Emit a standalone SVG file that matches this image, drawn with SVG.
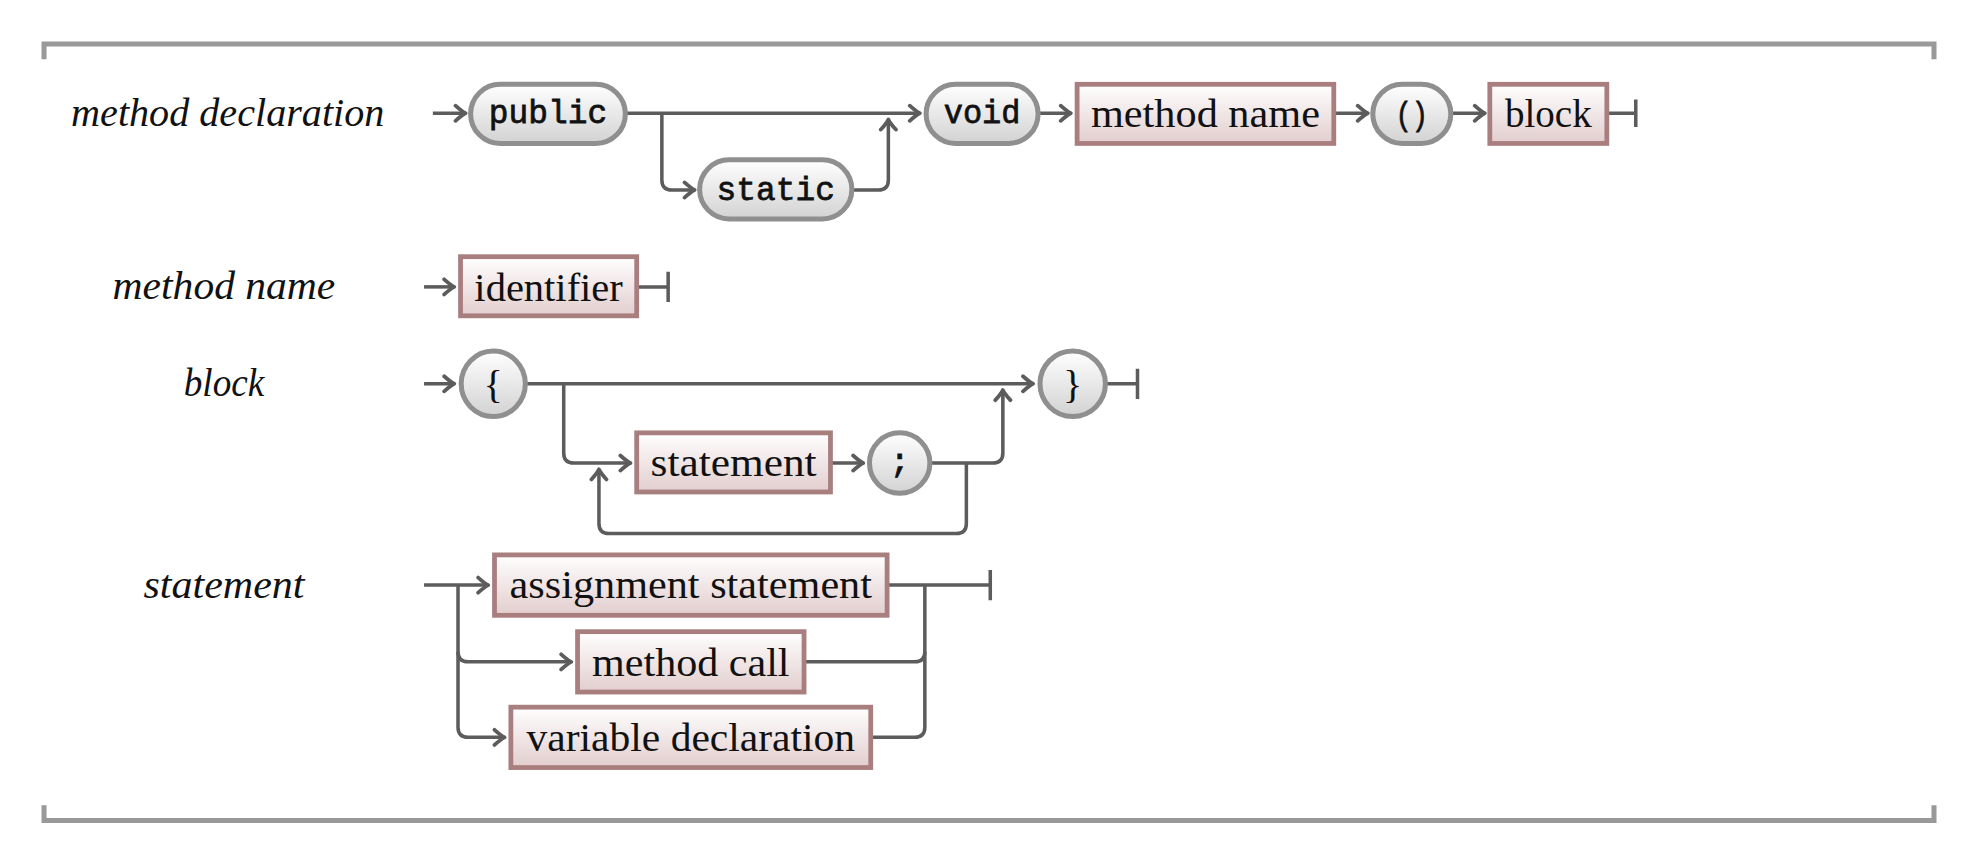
<svg xmlns="http://www.w3.org/2000/svg" width="1973" height="865" viewBox="0 0 1973 865">
<style>
.lbl{font-family:"Liberation Serif","DejaVu Serif",serif;font-style:italic;font-size:32px;fill:#111;text-anchor:middle}
.nt{font-family:"Liberation Serif","DejaVu Serif",serif;font-size:32px;fill:#111;text-anchor:middle}
.tt{font-family:"Liberation Mono","DejaVu Sans Mono",monospace;font-size:27px;fill:#111;stroke:#111;stroke-width:0.6;text-anchor:middle}
.pill{fill:url(#gPill);stroke:#8f8f8f;stroke-width:4}
.box{fill:url(#gBox);stroke:#a97e7e;stroke-width:3.8}
.c{fill:none;stroke:#5c5c5c;stroke-width:2.8;stroke-linejoin:round}
.a{marker-end:url(#arr)}
.frame{fill:none;stroke:#999;stroke-width:4}
</style>
<defs>
<linearGradient id="gPill" x1="0" y1="0" x2="0" y2="1"><stop offset="0" stop-color="#ffffff"/><stop offset="1" stop-color="#d2d2d2"/></linearGradient>
<linearGradient id="gBox" x1="0" y1="0" x2="0" y2="1"><stop offset="0" stop-color="#ffffff"/><stop offset="1" stop-color="#e2cdcd"/></linearGradient>
<marker id="arr" viewBox="-10 -8 12 16" refX="0" refY="0" markerWidth="12" markerHeight="16" orient="auto" markerUnits="userSpaceOnUse">
<path d="M-8,-6 Q-3,-1.5 0,0 Q-3,1.5 -8,6" fill="none" stroke="#5c5c5c" stroke-width="3" stroke-linecap="round" stroke-linejoin="round"/>
</marker>
</defs>
<rect width="1973" height="865" fill="#fff"/>
<g transform="scale(1.25829)">
<g id="frame">
<path class="frame" d="M35,47 V35 H1537 V47"/>
<path class="frame" d="M35,640 V652 H1537 V640"/>
</g>
<g id="labels">
<text class="lbl" x="181" y="100" textLength="249" lengthAdjust="spacingAndGlyphs">method declaration</text>
<text class="lbl" x="178" y="238" textLength="177" lengthAdjust="spacingAndGlyphs">method name</text>
<text class="lbl" x="178" y="315" textLength="64" lengthAdjust="spacingAndGlyphs">block</text>
<text class="lbl" x="178" y="475" textLength="128" lengthAdjust="spacingAndGlyphs">statement</text>
</g>
<g id="connectors">
<path class="c a" d="M344,90 H370"/>
<path class="c a" d="M497,90 H731"/>
<path class="c a" d="M526,90 V143 Q526,151 534,151 H552"/>
<path class="c a" d="M677,151 H698 Q706,151 706,143 V95"/>
<path class="c a" d="M825,90 H851"/>
<path class="c a" d="M1060,90 H1087"/>
<path class="c a" d="M1153,90 H1180"/>
<path class="c" d="M1277,90 H1300 M1300,79 V101"/>
<path class="c a" d="M337,228 H361"/>
<path class="c" d="M506,228 H531 M531,216 V240"/>
<path class="c a" d="M337,305 H361"/>
<path class="c a" d="M418,305 H821"/>
<path class="c a" d="M448,305 V360 Q448,368 456,368 H501"/>
<path class="c a" d="M660,368 H686"/>
<path class="c a" d="M739,368 H789 Q797,368 797,360 V310"/>
<path class="c a" d="M768,368 V416 Q768,424 760,424 H484 Q476,424 476,416 V373"/>
<path class="c" d="M879,305 H904 M904,293 V317"/>
<path class="c a" d="M337,465 H388"/>
<path class="c a" d="M364,465 V518 Q364,526 372,526 H454"/>
<path class="c a" d="M364,518 V578 Q364,586 372,586 H401"/>
<path class="c" d="M705,465 H787 M787,453 V477"/>
<path class="c" d="M639,526 H727 Q735,526 735,518"/>
<path class="c" d="M692,586 H727 Q735,586 735,578 V465"/>
</g>
<g id="n-public"><rect class="pill" x="374" y="67" width="123" height="47" rx="23.5"/><text class="tt" x="435.5" y="98" textLength="94" lengthAdjust="spacingAndGlyphs">public</text></g>
<g id="n-static"><rect class="pill" x="556" y="127" width="121" height="47" rx="23.5"/><text class="tt" x="616.5" y="159" textLength="94" lengthAdjust="spacingAndGlyphs">static</text></g>
<g id="n-void"><rect class="pill" x="736" y="67" width="89" height="47" rx="23.5"/><text class="tt" x="780.5" y="98" textLength="61" lengthAdjust="spacingAndGlyphs">void</text></g>
<g id="n-methodname"><rect class="box" x="856" y="67" width="204" height="47"/><text class="nt" x="958" y="101" textLength="182" lengthAdjust="spacingAndGlyphs">method name</text></g>
<g id="n-parens"><rect class="pill" x="1091" y="67" width="62" height="47" rx="23.5"/><text class="tt" x="1122" y="99" textLength="26" lengthAdjust="spacingAndGlyphs">()</text></g>
<g id="n-block"><rect class="box" x="1184" y="67" width="93" height="47"/><text class="nt" x="1230.5" y="101" textLength="69" lengthAdjust="spacingAndGlyphs">block</text></g>
<g id="n-identifier"><rect class="box" x="366" y="204" width="140" height="47"/><text class="nt" x="436" y="239" textLength="118" lengthAdjust="spacingAndGlyphs">identifier</text></g>
<g id="n-lbrace"><ellipse class="pill" cx="392" cy="305" rx="25.5" ry="26"/><text class="nt" x="392" y="316">{</text></g>
<g id="n-rbrace"><ellipse class="pill" cx="852.5" cy="305" rx="26" ry="26"/><text class="nt" x="852.5" y="316">}</text></g>
<g id="n-statement"><rect class="box" x="506" y="344" width="154" height="47"/><text class="nt" x="583" y="378" textLength="132" lengthAdjust="spacingAndGlyphs">statement</text></g>
<g id="n-semicolon"><ellipse class="pill" cx="715" cy="368" rx="24" ry="24"/><text class="tt" x="715" y="375">;</text></g>
<g id="n-assignment"><rect class="box" x="393" y="441" width="312" height="48"/><text class="nt" x="549" y="475" textLength="288" lengthAdjust="spacingAndGlyphs">assignment statement</text></g>
<g id="n-methodcall"><rect class="box" x="459" y="502" width="180" height="48"/><text class="nt" x="549" y="537" textLength="157" lengthAdjust="spacingAndGlyphs">method call</text></g>
<g id="n-vardecl"><rect class="box" x="406" y="562" width="286" height="48"/><text class="nt" x="549" y="597" textLength="261" lengthAdjust="spacingAndGlyphs">variable declaration</text></g>
</g>
</svg>
